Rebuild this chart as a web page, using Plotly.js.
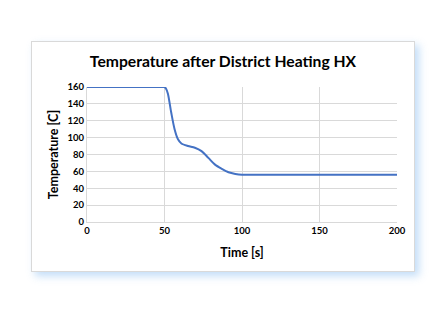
<!DOCTYPE html>
<html>
<head>
<meta charset="utf-8">
<script src="https://cdn.plot.ly/plotly-3.0.1.min.js"></script>
<style>
html,body{margin:0;padding:0;background:#fff;width:445px;height:317px;overflow:hidden;}
#frame{position:absolute;left:31px;top:41px;width:382px;height:229px;border:1px solid #d9d9d9;background:#fff;
box-shadow:4px 4px 8px rgba(120,180,240,0.45);}
#chart{position:absolute;left:0;top:0;width:382px;height:229px;}
</style>
</head>
<body>
<div id="frame"><div id="chart"></div></div>
<script>
const timeS = [0, 10, 20, 30, 40, 48, 50, 51, 52.2, 54.3, 56.5, 58.7, 60.9, 65.2, 69.6, 73.9, 78.3, 82.6, 87, 91.3, 95.7, 100, 110, 125, 150, 175, 200];
const tempC = [160, 160, 160, 160, 160, 160, 160, 158, 152, 130, 110, 98, 93, 90, 88, 84, 76, 68, 63, 59, 57, 56, 56, 56, 56, 56, 56];
const xTicks = [0, 50, 100, 150, 200];
const yTicks = [0, 20, 40, 60, 80, 100, 120, 140, 160];
const titleText = 'Temperature after District Heating HX';
const xTitle = 'Time [s]';
const yTitle = 'Temperature [C]';

const fontFam = 'Lato, Open Sans, sans-serif';
Plotly.newPlot('chart', [{
  x: timeS, y: tempC, type: 'scatter', mode: 'lines',
  line: {color: '#4472C4', width: 2, shape: 'spline', smoothing: 0.8},
  hoverinfo: 'none'
}], {
  width: 382, height: 229,
  margin: {l: 55, r: 17, t: 45, b: 49},
  paper_bgcolor: 'rgba(0,0,0,0)', plot_bgcolor: '#fff',
  showlegend: false,
  title: {text: '<b>' + titleText + '</b>', font: {family: fontFam, size: 15.7, color: '#000'}, x: 0.5, xanchor: 'center', y: 0.915, yanchor: 'middle'},
  xaxis: {
    range: [0, 200], tickvals: xTicks, ticktext: xTicks.map(v => '<b>' + v + '</b>'),
    showgrid: true, gridcolor: '#d9d9d9', gridwidth: 1, zeroline: false,
    showline: true, linecolor: '#d9d9d9', linewidth: 1, mirror: false,
    ticks: '', tickfont: {family: fontFam, size: 9.5, color: '#000'},
    title: {text: '<b>' + xTitle + '</b>', font: {family: fontFam, size: 12.5, color: '#000'}, standoff: 12}
  },
  yaxis: {
    range: [0, 160], tickvals: yTicks, ticktext: yTicks.map(v => '<b>' + v + '</b>'),
    showgrid: true, gridcolor: '#d9d9d9', gridwidth: 1, zeroline: false,
    showline: true, linecolor: '#d9d9d9', linewidth: 1,
    ticks: '', tickfont: {family: fontFam, size: 9.5, color: '#000'},
    title: {text: '<b>' + yTitle + '</b>', font: {family: fontFam, size: 12.5, color: '#000'}, standoff: 6}
  }
}, {staticPlot: true, displayModeBar: false});
</script>
</body>
</html>
